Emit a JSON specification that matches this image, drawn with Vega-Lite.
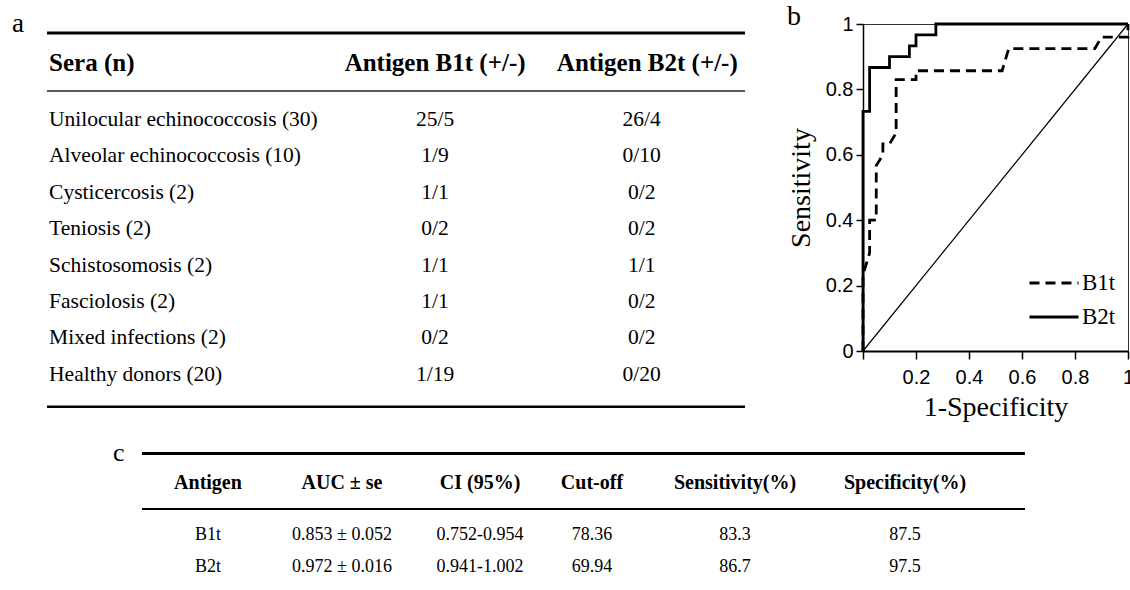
{
  "$schema": "https://vega.github.io/schema/vega-lite/v6.json",
  "background": "white",
  "padding": {"left": 12, "top": 2, "right": 0, "bottom": 0},
  "bounds": "flush",
  "spacing": 118,
  "resolve": {"legend": {"strokeDash": "independent"}},
  "config": {
    "view": {"stroke": null},
    "text": {"font": "Liberation Serif", "color": "black"},
    "rule": {"color": "black"}
  },
  "datasets": {
    "tableA": [
      {"row": 1, "sera": "Unilocular echinococcosis (30)", "b1t": "25/5", "b2t": "26/4"},
      {"row": 2, "sera": "Alveolar echinococcosis (10)", "b1t": "1/9", "b2t": "0/10"},
      {"row": 3, "sera": "Cysticercosis (2)", "b1t": "1/1", "b2t": "0/2"},
      {"row": 4, "sera": "Teniosis (2)", "b1t": "0/2", "b2t": "0/2"},
      {"row": 5, "sera": "Schistosomosis (2)", "b1t": "1/1", "b2t": "1/1"},
      {"row": 6, "sera": "Fasciolosis (2)", "b1t": "1/1", "b2t": "0/2"},
      {"row": 7, "sera": "Mixed infections (2)", "b1t": "0/2", "b2t": "0/2"},
      {"row": 8, "sera": "Healthy donors (20)", "b1t": "1/19", "b2t": "0/20"}
    ],
    "tableC": [
      {"row": 1, "antigen": "B1t", "auc": "0.853 ± 0.052", "ci": "0.752-0.954", "cutoff": "78.36", "sens": "83.3", "spec": "87.5"},
      {"row": 2, "antigen": "B2t", "auc": "0.972 ± 0.016", "ci": "0.941-1.002", "cutoff": "69.94", "sens": "86.7", "spec": "97.5"}
    ],
    "roc": [
      {"antigen": "B1t", "i": 0, "fpr": 0, "tpr": 0},
      {"antigen": "B1t", "i": 1, "fpr": 0, "tpr": 0.233},
      {"antigen": "B1t", "i": 2, "fpr": 0.025, "tpr": 0.3},
      {"antigen": "B1t", "i": 3, "fpr": 0.025, "tpr": 0.4},
      {"antigen": "B1t", "i": 4, "fpr": 0.05, "tpr": 0.4},
      {"antigen": "B1t", "i": 5, "fpr": 0.05, "tpr": 0.567},
      {"antigen": "B1t", "i": 6, "fpr": 0.075, "tpr": 0.6},
      {"antigen": "B1t", "i": 7, "fpr": 0.075, "tpr": 0.633},
      {"antigen": "B1t", "i": 8, "fpr": 0.1, "tpr": 0.633},
      {"antigen": "B1t", "i": 9, "fpr": 0.125, "tpr": 0.667},
      {"antigen": "B1t", "i": 10, "fpr": 0.125, "tpr": 0.83},
      {"antigen": "B1t", "i": 11, "fpr": 0.2, "tpr": 0.83},
      {"antigen": "B1t", "i": 12, "fpr": 0.2, "tpr": 0.857},
      {"antigen": "B1t", "i": 13, "fpr": 0.525, "tpr": 0.857},
      {"antigen": "B1t", "i": 14, "fpr": 0.55, "tpr": 0.925},
      {"antigen": "B1t", "i": 15, "fpr": 0.875, "tpr": 0.925},
      {"antigen": "B1t", "i": 16, "fpr": 0.9, "tpr": 0.96},
      {"antigen": "B1t", "i": 17, "fpr": 1, "tpr": 0.96},
      {"antigen": "B1t", "i": 18, "fpr": 1, "tpr": 1},
      {"antigen": "B2t", "i": 0, "fpr": 0, "tpr": 0},
      {"antigen": "B2t", "i": 1, "fpr": 0, "tpr": 0.733},
      {"antigen": "B2t", "i": 2, "fpr": 0.025, "tpr": 0.733},
      {"antigen": "B2t", "i": 3, "fpr": 0.025, "tpr": 0.867},
      {"antigen": "B2t", "i": 4, "fpr": 0.1, "tpr": 0.867},
      {"antigen": "B2t", "i": 5, "fpr": 0.1, "tpr": 0.9},
      {"antigen": "B2t", "i": 6, "fpr": 0.175, "tpr": 0.9},
      {"antigen": "B2t", "i": 7, "fpr": 0.175, "tpr": 0.933},
      {"antigen": "B2t", "i": 8, "fpr": 0.2, "tpr": 0.933},
      {"antigen": "B2t", "i": 9, "fpr": 0.2, "tpr": 0.967},
      {"antigen": "B2t", "i": 10, "fpr": 0.275, "tpr": 0.967},
      {"antigen": "B2t", "i": 11, "fpr": 0.275, "tpr": 1},
      {"antigen": "B2t", "i": 12, "fpr": 1, "tpr": 1}
    ]
  },
  "hconcat": [
    {
      "width": 698,
      "height": 384,
      "resolve": {"scale": {"x": "independent", "y": "independent"}},
      "layer": [
        {
          "layer": [
            {"data": {"values": [{}]}, "mark": {"type": "rule", "strokeWidth": 3},
             "encoding": {"y": {"datum": -1.39, "type": "quantitative", "scale": {"domain": [-1.637, 8.912], "reverse": true, "nice": false, "zero": false}, "axis": null}}},
            {"data": {"values": [{}]}, "mark": {"type": "rule", "strokeWidth": 1.5, "color": "#222222"},
             "encoding": {"y": {"datum": 0.203, "type": "quantitative", "scale": {"domain": [-1.637, 8.912], "reverse": true, "nice": false, "zero": false}, "axis": null}}},
            {"data": {"values": [{}]}, "mark": {"type": "rule", "strokeWidth": 2.5},
             "encoding": {"y": {"datum": 8.88, "type": "quantitative", "scale": {"domain": [-1.637, 8.912], "reverse": true, "nice": false, "zero": false}, "axis": null}}},
            {"data": {"values": [{}]}, "mark": {"type": "text", "align": "left", "baseline": "middle", "fontSize": 25, "fontWeight": "bold"},
             "encoding": {"text": {"value": "Sera (n)"},
               "x": {"datum": 0.3, "type": "quantitative", "scale": {"domain": [0, 100], "nice": false, "zero": false}, "axis": null},
               "y": {"datum": -0.566, "type": "quantitative", "scale": {"domain": [-1.637, 8.912], "reverse": true, "nice": false, "zero": false}, "axis": null}}},
            {"data": {"values": [{}]}, "mark": {"type": "text", "align": "center", "baseline": "middle", "fontSize": 25, "fontWeight": "bold"},
             "encoding": {"text": {"value": "Antigen B1t (+/-)"},
               "x": {"datum": 55.6, "type": "quantitative", "scale": {"domain": [0, 100], "nice": false, "zero": false}, "axis": null},
               "y": {"datum": -0.566, "type": "quantitative", "scale": {"domain": [-1.637, 8.912], "reverse": true, "nice": false, "zero": false}, "axis": null}}},
            {"data": {"values": [{}]}, "mark": {"type": "text", "align": "center", "baseline": "middle", "fontSize": 25, "fontWeight": "bold"},
             "encoding": {"text": {"value": "Antigen B2t (+/-)"},
               "x": {"datum": 86.0, "type": "quantitative", "scale": {"domain": [0, 100], "nice": false, "zero": false}, "axis": null},
               "y": {"datum": -0.566, "type": "quantitative", "scale": {"domain": [-1.637, 8.912], "reverse": true, "nice": false, "zero": false}, "axis": null}}},
            {"data": {"name": "tableA"}, "mark": {"type": "text", "align": "left", "baseline": "middle", "fontSize": 21.5},
             "encoding": {"text": {"field": "sera", "type": "nominal"},
               "x": {"datum": 0.3, "type": "quantitative", "scale": {"domain": [0, 100], "nice": false, "zero": false}, "axis": null},
               "y": {"field": "row", "type": "quantitative", "scale": {"domain": [-1.637, 8.912], "reverse": true, "nice": false, "zero": false}, "axis": null}}},
            {"data": {"name": "tableA"}, "mark": {"type": "text", "align": "center", "baseline": "middle", "fontSize": 21.5},
             "encoding": {"text": {"field": "b1t", "type": "nominal"},
               "x": {"datum": 55.6, "type": "quantitative", "scale": {"domain": [0, 100], "nice": false, "zero": false}, "axis": null},
               "y": {"field": "row", "type": "quantitative", "scale": {"domain": [-1.637, 8.912], "reverse": true, "nice": false, "zero": false}, "axis": null}}},
            {"data": {"name": "tableA"}, "mark": {"type": "text", "align": "center", "baseline": "middle", "fontSize": 21.5},
             "encoding": {"text": {"field": "b2t", "type": "nominal"},
               "x": {"datum": 85.2, "type": "quantitative", "scale": {"domain": [0, 100], "nice": false, "zero": false}, "axis": null},
               "y": {"field": "row", "type": "quantitative", "scale": {"domain": [-1.637, 8.912], "reverse": true, "nice": false, "zero": false}, "axis": null}}},
            {"data": {"values": [{}]}, "mark": {"type": "text", "align": "left", "baseline": "alphabetic", "fontSize": 27},
             "encoding": {"text": {"value": "a"},
               "x": {"datum": -5.01, "type": "quantitative", "scale": {"domain": [0, 100], "nice": false, "zero": false}, "axis": null},
               "y": {"datum": -1.417, "type": "quantitative", "scale": {"domain": [-1.637, 8.912], "reverse": true, "nice": false, "zero": false}, "axis": null}}}
          ]
        },
        {
          "layer": [
            {"data": {"values": [{}]}, "mark": {"type": "rule", "strokeWidth": 3},
             "encoding": {
               "x": {"datum": 0, "type": "quantitative", "scale": {"domain": [-10.759, 68.29], "nice": false, "zero": false}, "axis": null},
               "x2": {"datum": 100},
               "y": {"datum": -1.55, "type": "quantitative", "scale": {"domain": [-14.969, -2.969], "reverse": true, "nice": false, "zero": false}, "axis": null}}},
            {"data": {"values": [{}]}, "mark": {"type": "rule", "strokeWidth": 2},
             "encoding": {
               "x": {"datum": 0, "type": "quantitative", "scale": {"domain": [-10.759, 68.29], "nice": false, "zero": false}, "axis": null},
               "x2": {"datum": 100},
               "y": {"datum": 0.187, "type": "quantitative", "scale": {"domain": [-14.969, -2.969], "reverse": true, "nice": false, "zero": false}, "axis": null}}},
            {"data": {"values": [{}]}, "mark": {"type": "text", "align": "left", "baseline": "alphabetic", "fontSize": 26},
             "encoding": {"text": {"value": "c"},
               "x": {"datum": -3.28, "type": "quantitative", "scale": {"domain": [-10.759, 68.29], "nice": false, "zero": false}, "axis": null},
               "y": {"datum": -1.313, "type": "quantitative", "scale": {"domain": [-14.969, -2.969], "reverse": true, "nice": false, "zero": false}, "axis": null}}},
            {"data": {"values": [{}]}, "mark": {"type": "text", "align": "center", "baseline": "middle", "fontSize": 20, "fontWeight": "bold"},
             "encoding": {"text": {"value": "Antigen"},
               "x": {"datum": 7.47, "type": "quantitative", "scale": {"domain": [-10.759, 68.29], "nice": false, "zero": false}, "axis": null},
               "y": {"datum": -0.625, "type": "quantitative", "scale": {"domain": [-14.969, -2.969], "reverse": true, "nice": false, "zero": false}, "axis": null}}},
            {"data": {"values": [{}]}, "mark": {"type": "text", "align": "center", "baseline": "middle", "fontSize": 20, "fontWeight": "bold"},
             "encoding": {"text": {"value": "AUC ± se"},
               "x": {"datum": 22.65, "type": "quantitative", "scale": {"domain": [-10.759, 68.29], "nice": false, "zero": false}, "axis": null},
               "y": {"datum": -0.625, "type": "quantitative", "scale": {"domain": [-14.969, -2.969], "reverse": true, "nice": false, "zero": false}, "axis": null}}},
            {"data": {"values": [{}]}, "mark": {"type": "text", "align": "center", "baseline": "middle", "fontSize": 20, "fontWeight": "bold"},
             "encoding": {"text": {"value": "CI (95%)"},
               "x": {"datum": 38.28, "type": "quantitative", "scale": {"domain": [-10.759, 68.29], "nice": false, "zero": false}, "axis": null},
               "y": {"datum": -0.625, "type": "quantitative", "scale": {"domain": [-14.969, -2.969], "reverse": true, "nice": false, "zero": false}, "axis": null}}},
            {"data": {"values": [{}]}, "mark": {"type": "text", "align": "center", "baseline": "middle", "fontSize": 20, "fontWeight": "bold"},
             "encoding": {"text": {"value": "Cut-off"},
               "x": {"datum": 50.96, "type": "quantitative", "scale": {"domain": [-10.759, 68.29], "nice": false, "zero": false}, "axis": null},
               "y": {"datum": -0.625, "type": "quantitative", "scale": {"domain": [-14.969, -2.969], "reverse": true, "nice": false, "zero": false}, "axis": null}}},
            {"data": {"values": [{}]}, "mark": {"type": "text", "align": "center", "baseline": "middle", "fontSize": 20, "fontWeight": "bold"},
             "encoding": {"text": {"value": "Sensitivity(%)"},
               "x": {"datum": 67.16, "type": "quantitative", "scale": {"domain": [-10.759, 68.29], "nice": false, "zero": false}, "axis": null},
               "y": {"datum": -0.625, "type": "quantitative", "scale": {"domain": [-14.969, -2.969], "reverse": true, "nice": false, "zero": false}, "axis": null}}},
            {"data": {"values": [{}]}, "mark": {"type": "text", "align": "center", "baseline": "middle", "fontSize": 20, "fontWeight": "bold"},
             "encoding": {"text": {"value": "Specificity(%)"},
               "x": {"datum": 86.41, "type": "quantitative", "scale": {"domain": [-10.759, 68.29], "nice": false, "zero": false}, "axis": null},
               "y": {"datum": -0.625, "type": "quantitative", "scale": {"domain": [-14.969, -2.969], "reverse": true, "nice": false, "zero": false}, "axis": null}}},
            {"data": {"name": "tableC"}, "mark": {"type": "text", "align": "center", "baseline": "middle", "fontSize": 18},
             "encoding": {"text": {"field": "antigen", "type": "nominal"},
               "x": {"datum": 7.47, "type": "quantitative", "scale": {"domain": [-10.759, 68.29], "nice": false, "zero": false}, "axis": null},
               "y": {"field": "row", "type": "quantitative", "scale": {"domain": [-14.969, -2.969], "reverse": true, "nice": false, "zero": false}, "axis": null}}},
            {"data": {"name": "tableC"}, "mark": {"type": "text", "align": "center", "baseline": "middle", "fontSize": 18},
             "encoding": {"text": {"field": "auc", "type": "nominal"},
               "x": {"datum": 22.65, "type": "quantitative", "scale": {"domain": [-10.759, 68.29], "nice": false, "zero": false}, "axis": null},
               "y": {"field": "row", "type": "quantitative", "scale": {"domain": [-14.969, -2.969], "reverse": true, "nice": false, "zero": false}, "axis": null}}},
            {"data": {"name": "tableC"}, "mark": {"type": "text", "align": "center", "baseline": "middle", "fontSize": 18},
             "encoding": {"text": {"field": "ci", "type": "nominal"},
               "x": {"datum": 38.28, "type": "quantitative", "scale": {"domain": [-10.759, 68.29], "nice": false, "zero": false}, "axis": null},
               "y": {"field": "row", "type": "quantitative", "scale": {"domain": [-14.969, -2.969], "reverse": true, "nice": false, "zero": false}, "axis": null}}},
            {"data": {"name": "tableC"}, "mark": {"type": "text", "align": "center", "baseline": "middle", "fontSize": 18},
             "encoding": {"text": {"field": "cutoff", "type": "nominal"},
               "x": {"datum": 50.96, "type": "quantitative", "scale": {"domain": [-10.759, 68.29], "nice": false, "zero": false}, "axis": null},
               "y": {"field": "row", "type": "quantitative", "scale": {"domain": [-14.969, -2.969], "reverse": true, "nice": false, "zero": false}, "axis": null}}},
            {"data": {"name": "tableC"}, "mark": {"type": "text", "align": "center", "baseline": "middle", "fontSize": 18},
             "encoding": {"text": {"field": "sens", "type": "nominal"},
               "x": {"datum": 67.16, "type": "quantitative", "scale": {"domain": [-10.759, 68.29], "nice": false, "zero": false}, "axis": null},
               "y": {"field": "row", "type": "quantitative", "scale": {"domain": [-14.969, -2.969], "reverse": true, "nice": false, "zero": false}, "axis": null}}},
            {"data": {"name": "tableC"}, "mark": {"type": "text", "align": "center", "baseline": "middle", "fontSize": 18},
             "encoding": {"text": {"field": "spec", "type": "nominal"},
               "x": {"datum": 86.41, "type": "quantitative", "scale": {"domain": [-10.759, 68.29], "nice": false, "zero": false}, "axis": null},
               "y": {"field": "row", "type": "quantitative", "scale": {"domain": [-14.969, -2.969], "reverse": true, "nice": false, "zero": false}, "axis": null}}}
          ]
        }
      ]
    },
    {
      "width": 265,
      "height": 327,
      "view": {"stroke": "#333333", "strokeWidth": 1},
      "layer": [
        {"data": {"name": "roc"}, "mark": {"type": "line", "color": "black", "strokeWidth": 2.8},
         "encoding": {
           "x": {"field": "fpr", "type": "quantitative", "scale": {"domain": [0, 1], "nice": false, "zero": false},
             "axis": {"values": [0, 0.2, 0.4, 0.6, 0.8, 1], "labelExpr": "datum.value == 0 ? '' : format(datum.value, '~g')", "title": "1-Specificity", "grid": false, "tickSize": 8, "tickWidth": 1.5, "tickColor": "black", "domainColor": "black", "domainWidth": 2, "labelFont": "Liberation Sans", "labelFontSize": 20, "labelColor": "black", "labelPadding": 8, "labelFlush": false, "labelOverlap": false, "titleFont": "Liberation Serif", "titleFontSize": 28, "titleFontWeight": "normal", "titleColor": "black", "titlePadding": 6}},
           "y": {"field": "tpr", "type": "quantitative", "scale": {"domain": [0, 1], "nice": false, "zero": false},
             "axis": {"values": [0, 0.2, 0.4, 0.6, 0.8, 1], "format": "~g", "title": "Sensitivity", "grid": false, "tickSize": 7, "tickWidth": 1.5, "tickColor": "black", "domainColor": "black", "domainWidth": 1.5, "labelFont": "Liberation Sans", "labelFontSize": 20, "labelColor": "black", "labelPadding": 3, "labelFlush": false, "labelOverlap": false, "titleFont": "Liberation Serif", "titleFontSize": 28, "titleFontWeight": "normal", "titleColor": "black", "titlePadding": 10}},
           "order": {"field": "i", "type": "quantitative"},
           "strokeDash": {"field": "antigen", "type": "nominal", "scale": {"domain": ["B1t", "B2t"], "range": [[10, 6], [1, 0]]},
             "legend": {"title": null, "orient": "none", "legendX": 165, "legendY": 242, "symbolType": "stroke", "symbolSize": 2401, "symbolStrokeWidth": 2.8, "symbolStrokeColor": "black", "labelFont": "Liberation Serif", "labelFontSize": 23, "labelColor": "black", "labelOffset": 2, "clipHeight": 34, "rowPadding": 0, "padding": 0}}
         }},
        {"data": {"values": [{}]}, "mark": {"type": "rule", "strokeWidth": 1.2, "color": "black"},
         "encoding": {
           "x": {"datum": 0, "type": "quantitative"},
           "y": {"datum": 0, "type": "quantitative"},
           "x2": {"datum": 1},
           "y2": {"datum": 1}
         }},
        {"data": {"values": [{}]}, "mark": {"type": "text", "align": "left", "baseline": "alphabetic", "fontSize": 28},
         "encoding": {"text": {"value": "b"},
           "x": {"datum": -0.287, "type": "quantitative"},
           "y": {"datum": 0.997, "type": "quantitative"}}}
      ]
    }
  ]
}
